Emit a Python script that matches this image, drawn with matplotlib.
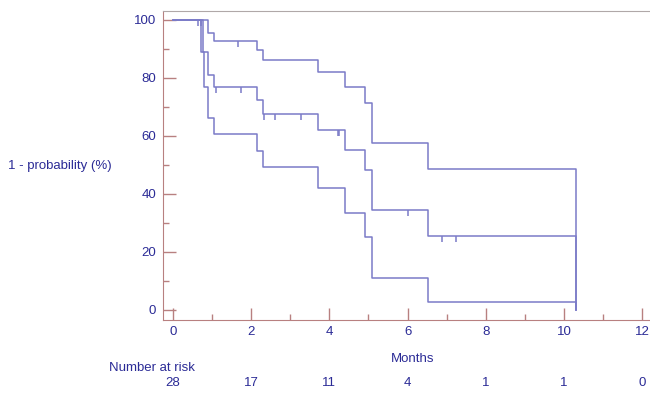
import matplotlib
matplotlib.use("Agg")
import matplotlib.pyplot as plt
import matplotlib.transforms as mtransforms

# step curves (time in months, % value after the step)
upper_t = [0, 0.90, 1.05, 2.14, 2.29, 3.72, 4.40, 4.91, 5.10, 6.51, 10.31]
upper_y = [100, 95.4, 92.9, 89.7, 86.2, 82.2, 77.0, 71.3, 57.5, 48.5, 0]

mid_t = [0, 0.76, 0.90, 1.05, 2.14, 2.29, 3.72, 4.40, 4.91, 5.10, 6.51, 10.31]
mid_y = [100, 89.1, 81.0, 76.8, 72.4, 67.6, 62.1, 55.2, 48.3, 34.5, 25.5, 0]

low_t = [0, 0.72, 0.80, 0.90, 1.05, 2.14, 2.29, 3.72, 4.40, 4.91, 5.10, 6.51, 10.31]
low_y = [100, 89.1, 76.8, 66.1, 60.6, 54.8, 49.2, 42.0, 33.3, 25.1, 11.1, 2.9, 0]

# censoring marks
cens_t = [0.63, 0.72, 1.66, 1.10, 1.73, 2.33, 2.61, 3.27, 4.21, 4.24, 6.00, 6.87, 7.23]
cens_y = [100, 100, 92.9, 76.8, 76.8, 67.6, 67.6, 67.6, 62.1, 62.1, 34.5, 25.5, 25.5]

risk_t = [0, 2, 4, 6, 8, 10, 12]
risk_n = [28, 17, 11, 4, 1, 1, 0]

text_col = "#2b2b96"
line_col = "#7b7bc8"
axis_col = "#b88080"

plt.rcParams["font.family"] = ["Liberation Sans", "DejaVu Sans"]
plt.rcParams["font.size"] = 9.5

fig = plt.figure(figsize=(6.5, 3.97), dpi=100)
ax = fig.add_axes([163 / 650, 1 - 320 / 397, 487 / 650, 309 / 397])

for t, y in [(upper_t, upper_y), (mid_t, mid_y), (low_t, low_y)]:
    ax.step(t, y, where="post", color=line_col, lw=1.1)

ax.vlines(cens_t, [v - 2.1 for v in cens_y], cens_y, color=line_col, lw=1.1)

ax.set_xlim(-0.256, 12.2)
ax.set_ylim(-3.45, 103.1)

ax.set_xticks(range(0, 13, 2))
ax.set_xticks(range(1, 12, 2), minor=True)
ax.set_yticks(range(0, 101, 20))
ax.set_yticks(range(10, 100, 20), minor=True)

ax.tick_params(which="both", direction="in", color=axis_col, labelcolor=text_col,
               labelsize=9.5)
ax.tick_params(which="major", length=9, width=1)
ax.tick_params(which="minor", length=4.5, width=1)
ax.tick_params(axis="x", pad=4)
ax.tick_params(axis="y", pad=5)

ax.spines["right"].set_visible(False)
ax.spines["left"].set_color(axis_col)
ax.spines["bottom"].set_color(axis_col)
ax.spines["top"].set_color("#b0a8a8")

ax.set_xlabel("Months", color=text_col, fontsize=9.5, labelpad=4)
ax.xaxis.set_label_coords((413 - 163) / 487, -(353 - 320) / 309)

fig.text(60 / 650, 1 - 166 / 397, "1 - probability (%)", color=text_col,
         ha="center", va="center", fontsize=9.5)

trans = mtransforms.blended_transform_factory(ax.transData, fig.transFigure)
fig.text(152 / 650, 1 - 368 / 397, "Number at risk", color=text_col,
         ha="center", va="center", fontsize=9.5)
for t, n in zip(risk_t, risk_n):
    ax.text(t, 1 - 383 / 397, str(n), transform=trans, color=text_col,
            ha="center", va="center", fontsize=9.5)

fig.savefig("out.png", dpi=100)
